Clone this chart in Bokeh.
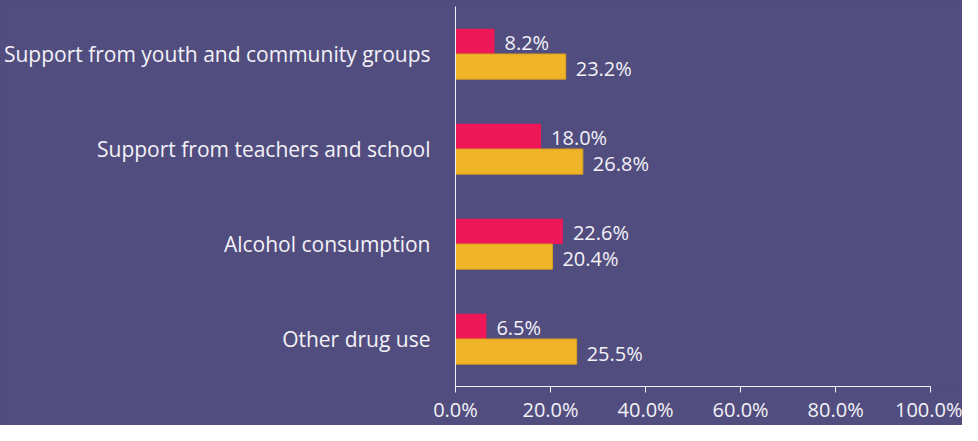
from bokeh.plotting import figure
from bokeh.models import FactorRange, Range1d, FixedTicker, PrintfTickFormatter, ColumnDataSource
from bokeh.transform import dodge
from bokeh.core.properties import value
from bokeh.embed import file_html
from bokeh.resources import INLINE

categories = [
    "Support from youth and community groups",
    "Support from teachers and school",
    "Alcohol consumption",
    "Other drug use",
]
pink_values = [8.2, 18.0, 22.6, 6.5]
yellow_values = [23.2, 26.8, 20.4, 25.5]
x_ticks = [0, 20, 40, 60, 80, 100]

BG = "#524D7F"
PINK = "#EE1858"
YELLOW = "#F0B429"
TEXT = "#F2F2F7"
FONT = "Open Sans"

W, H = 962, 425
LEFT, AXIS_RIGHT = 452, 930   # pixel positions of 0% and 100%
x_end = 100.0 * (W - LEFT) / (AXIS_RIGHT - LEFT)

src = ColumnDataSource(dict(
    cat=categories,
    pink=pink_values,
    yellow=yellow_values,
    pink_lbl=[f"{v:.1f}%" for v in pink_values],
    yellow_lbl=[f"{v:.1f}%" for v in yellow_values],
))

p = figure(
    width=W, height=H,
    y_range=FactorRange(factors=list(reversed(categories))),
    x_range=Range1d(0, x_end),
    output_backend="svg", toolbar_location=None,
    min_border_left=LEFT, min_border_right=0, min_border_top=6, min_border_bottom=33,
    background_fill_color=BG, border_fill_color=BG, outline_line_color=None,
)
p.styles = {"background-color": BG}

bar_h = 0.265
off = 0.1325
p.hbar(y=dodge("cat", off, range=p.y_range), left=0, right="pink", height=bar_h,
       source=src, fill_color=PINK, line_color=None)
p.hbar(y=dodge("cat", -off, range=p.y_range), left=0, right="yellow", height=bar_h,
       source=src, fill_color=YELLOW, line_color="#D9A020", line_width=1)

p.text(x="pink", y=dodge("cat", off, range=p.y_range), text="pink_lbl", source=src,
       x_offset=10, y_offset=1, text_align="left", text_baseline="middle",
       text_font=value(FONT), text_font_size="20px", text_color=TEXT)
p.text(x="yellow", y=dodge("cat", -off, range=p.y_range), text="yellow_lbl", source=src,
       x_offset=10, y_offset=2, text_align="left", text_baseline="middle",
       text_font=value(FONT), text_font_size="20px", text_color=TEXT)

p.grid.visible = False

xa = p.xaxis[0]
xa.ticker = FixedTicker(ticks=x_ticks)
xa.bounds = (0, 100)
xa.formatter = PrintfTickFormatter(format="%.1f%%")
xa.axis_line_color = TEXT
xa.major_tick_line_color = TEXT
xa.major_tick_out = 6
xa.major_tick_in = 0
xa.minor_tick_line_color = None
xa.major_label_standoff = 3
xa.major_label_text_font = FONT
xa.major_label_text_font_size = "20px"
xa.major_label_text_color = TEXT

ya = p.yaxis[0]
ya.axis_line_color = TEXT
ya.major_tick_line_color = None
ya.minor_tick_line_color = None
ya.major_label_standoff = 19
ya.major_label_text_font = FONT
ya.major_label_text_font_size = "21px"
ya.major_label_text_color = TEXT

open("out.html", "w").write(file_html(p, INLINE))
